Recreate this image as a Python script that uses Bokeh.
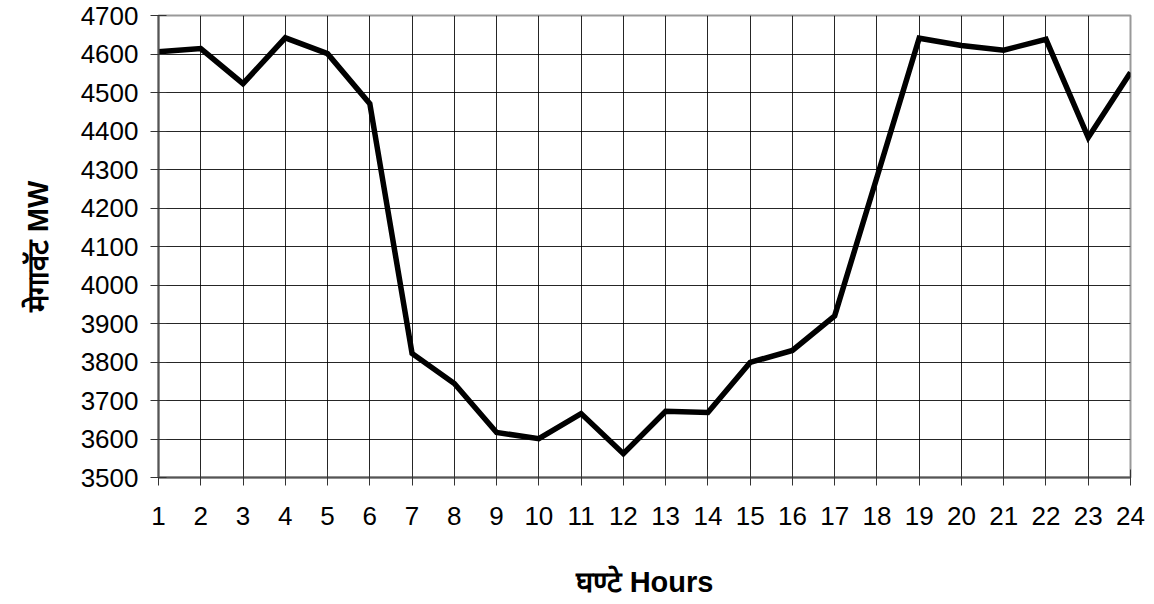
from bokeh.plotting import figure
from bokeh.models import Range1d, FixedTicker
from bokeh.embed import file_html
from bokeh.resources import INLINE

hours = list(range(1, 25))
megawatts = [4606, 4614, 4523, 4642, 4601, 4471, 3822, 3744, 3617, 3601, 3666, 3562,
             3672, 3669, 3799, 3830, 3920, 4280, 4641, 4622, 4610, 4638, 4383, 4552]
y_ticks = list(range(3500, 4701, 100))
x_label = "घण्टे Hours"
y_label = "मेगावॅट MW"

FONT = "Liberation Sans"

p = figure(width=1146, height=604, output_backend="svg", toolbar_location=None,
           x_range=Range1d(1, 24), y_range=Range1d(3500, 4700),
           min_border_left=158, min_border_right=16, min_border_top=15, min_border_bottom=127)

p.line(hours, megawatts, line_color="black", line_width=5.5, line_join="miter")

p.outline_line_color = "#999999"
p.outline_line_width = 2
p.background_fill_color = "white"
p.border_fill_color = "white"

for g in (p.xgrid, p.ygrid):
    g.grid_line_color = "black"
    g.grid_line_width = 1
    g.grid_line_alpha = 0.85

p.xaxis.ticker = FixedTicker(ticks=hours)
p.yaxis.ticker = FixedTicker(ticks=y_ticks)

for ax in (p.xaxis, p.yaxis):
    ax.axis_line_color = "#555555"
    ax.axis_line_width = 2
    ax.major_tick_line_color = "#333333"
    ax.major_tick_line_width = 1
    ax.major_tick_in = 8
    ax.major_tick_out = 8
    ax.minor_tick_line_color = None
    ax.major_label_text_font = FONT
    ax.major_label_text_font_size = "26px"
    ax.major_label_text_color = "black"
    ax.axis_label_text_font = FONT
    ax.axis_label_text_font_style = "bold"
    ax.axis_label_text_font_size = "29px"
    ax.axis_label_text_color = "black"

p.xaxis.axis_label = x_label
p.yaxis.axis_label = y_label
p.xaxis.major_label_standoff = 21
p.yaxis.major_label_standoff = 12
p.xaxis.axis_label_standoff = 38
p.yaxis.axis_label_standoff = 24

open("out.html", "w").write(file_html(p, INLINE))
